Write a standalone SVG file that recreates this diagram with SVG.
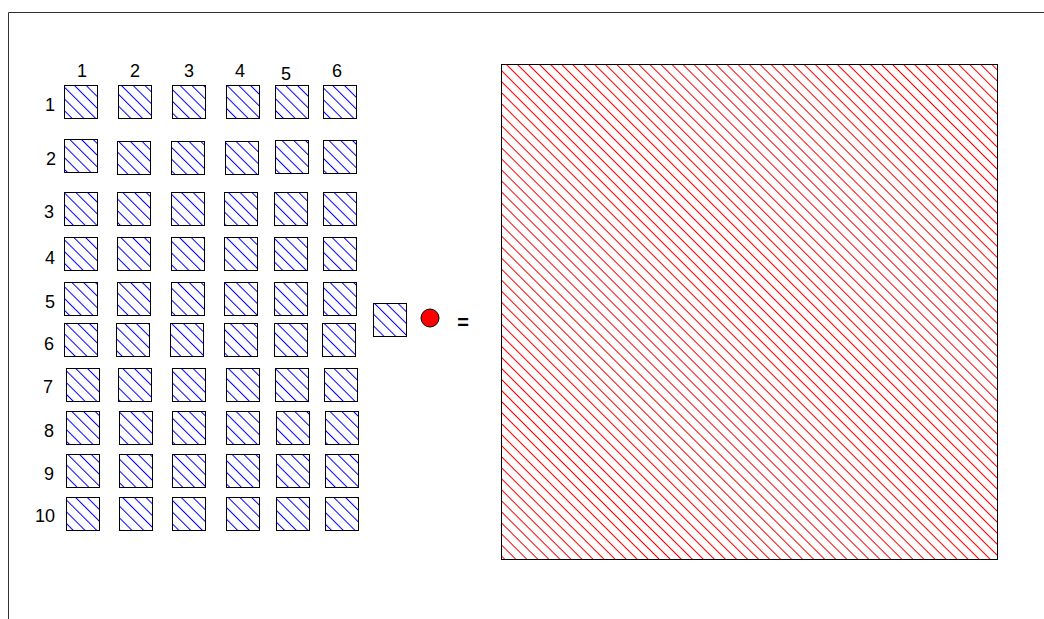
<svg xmlns="http://www.w3.org/2000/svg" width="1044" height="619" viewBox="0 0 1044 619">
<defs>
<pattern id="hb" patternUnits="userSpaceOnUse" width="8.3" height="8.3" patternTransform="rotate(-45)">
<rect width="8.3" height="8.3" fill="#fff"/>
<line x1="0.5" y1="0" x2="0.5" y2="8.3" stroke="#0000ff" stroke-width="1"/>
</pattern>
<pattern id="hr" patternUnits="userSpaceOnUse" width="7.8" height="7.8" patternTransform="rotate(-45)">
<rect width="7.8" height="7.8" fill="#fff"/>
<line x1="0.5" y1="0" x2="0.5" y2="7.8" stroke="#ff0000" stroke-width="1"/>
</pattern>
<style>
.sq{fill:url(#hb);stroke:#000;stroke-width:1}
.lb{font-family:"Liberation Sans",Arial,sans-serif;font-size:18px;fill:#000;text-anchor:middle}
</style>
</defs>
<rect width="1044" height="619" fill="#fff"/>
<g id="frame" stroke="#333" stroke-width="1" fill="none">
<line x1="8.5" y1="12.5" x2="1044" y2="12.5"/>
<line x1="8.5" y1="12.5" x2="8.5" y2="619"/>
</g>
<g id="col-labels">
<text class="lb" x="82" y="77">1</text>
<text class="lb" x="135" y="77">2</text>
<text class="lb" x="189" y="77">3</text>
<text class="lb" x="240" y="77">4</text>
<text class="lb" x="286" y="80">5</text>
<text class="lb" x="337" y="77">6</text>
</g>
<g id="row-labels">
<text class="lb" x="50" y="111">1</text>
<text class="lb" x="51" y="165">2</text>
<text class="lb" x="49" y="218">3</text>
<text class="lb" x="50" y="264">4</text>
<text class="lb" x="50" y="308">5</text>
<text class="lb" x="49" y="350">6</text>
<text class="lb" x="48" y="393">7</text>
<text class="lb" x="49" y="437">8</text>
<text class="lb" x="49" y="480">9</text>
<text class="lb" x="45" y="522">10</text>
</g>
<g id="grid">
<g id="row1">
<rect class="sq" x="64.5" y="85.5" width="33" height="33"/>
<rect class="sq" x="118.5" y="85.5" width="33" height="33"/>
<rect class="sq" x="172.5" y="85.5" width="33" height="33"/>
<rect class="sq" x="226.5" y="85.5" width="33" height="33"/>
<rect class="sq" x="275.5" y="85.5" width="33" height="33"/>
<rect class="sq" x="323.5" y="85.5" width="33" height="33"/>
</g>
<g id="row2">
<rect class="sq" x="64.5" y="139.5" width="33" height="33"/>
<rect class="sq" x="117.5" y="141.5" width="33" height="33"/>
<rect class="sq" x="171.5" y="141.5" width="33" height="33"/>
<rect class="sq" x="225.5" y="141.5" width="33" height="33"/>
<rect class="sq" x="275.5" y="140.5" width="33" height="33"/>
<rect class="sq" x="323.5" y="140.5" width="33" height="33"/>
</g>
<g id="row3">
<rect class="sq" x="64.5" y="192.5" width="33" height="33"/>
<rect class="sq" x="117.5" y="192.5" width="33" height="33"/>
<rect class="sq" x="171.5" y="192.5" width="33" height="33"/>
<rect class="sq" x="224.5" y="192.5" width="33" height="33"/>
<rect class="sq" x="274.5" y="192.5" width="33" height="33"/>
<rect class="sq" x="323.5" y="192.5" width="33" height="33"/>
</g>
<g id="row4">
<rect class="sq" x="64.5" y="237.5" width="33" height="33"/>
<rect class="sq" x="117.5" y="237.5" width="33" height="33"/>
<rect class="sq" x="171.5" y="237.5" width="33" height="33"/>
<rect class="sq" x="224.5" y="237.5" width="33" height="33"/>
<rect class="sq" x="274.5" y="237.5" width="33" height="33"/>
<rect class="sq" x="323.5" y="237.5" width="33" height="33"/>
</g>
<g id="row5">
<rect class="sq" x="64.5" y="282.5" width="33" height="33"/>
<rect class="sq" x="117.5" y="282.5" width="33" height="33"/>
<rect class="sq" x="171.5" y="282.5" width="33" height="33"/>
<rect class="sq" x="224.5" y="282.5" width="33" height="33"/>
<rect class="sq" x="274.5" y="282.5" width="33" height="33"/>
<rect class="sq" x="323.5" y="282.5" width="33" height="33"/>
</g>
<g id="row6">
<rect class="sq" x="64.5" y="323.5" width="33" height="33"/>
<rect class="sq" x="116.5" y="323.5" width="33" height="33"/>
<rect class="sq" x="170.5" y="323.5" width="33" height="33"/>
<rect class="sq" x="224.5" y="323.5" width="33" height="33"/>
<rect class="sq" x="274.5" y="323.5" width="33" height="33"/>
<rect class="sq" x="322.5" y="323.5" width="33" height="33"/>
</g>
<g id="row7">
<rect class="sq" x="66.5" y="368.5" width="33" height="33"/>
<rect class="sq" x="118.5" y="368.5" width="33" height="33"/>
<rect class="sq" x="172.5" y="368.5" width="33" height="33"/>
<rect class="sq" x="226.5" y="368.5" width="33" height="33"/>
<rect class="sq" x="275.5" y="368.5" width="33" height="33"/>
<rect class="sq" x="324.5" y="368.5" width="33" height="33"/>
</g>
<g id="row8">
<rect class="sq" x="66.5" y="411.5" width="33" height="33"/>
<rect class="sq" x="119.5" y="411.5" width="33" height="33"/>
<rect class="sq" x="172.5" y="411.5" width="33" height="33"/>
<rect class="sq" x="226.5" y="411.5" width="33" height="33"/>
<rect class="sq" x="276.5" y="411.5" width="33" height="33"/>
<rect class="sq" x="325.5" y="411.5" width="33" height="33"/>
</g>
<g id="row9">
<rect class="sq" x="66.5" y="454.5" width="33" height="33"/>
<rect class="sq" x="119.5" y="454.5" width="33" height="33"/>
<rect class="sq" x="172.5" y="454.5" width="33" height="33"/>
<rect class="sq" x="226.5" y="454.5" width="33" height="33"/>
<rect class="sq" x="276.5" y="454.5" width="33" height="33"/>
<rect class="sq" x="325.5" y="454.5" width="33" height="33"/>
</g>
<g id="row10">
<rect class="sq" x="66.5" y="497.5" width="33" height="33"/>
<rect class="sq" x="119.5" y="497.5" width="33" height="33"/>
<rect class="sq" x="172.5" y="497.5" width="33" height="33"/>
<rect class="sq" x="226.5" y="497.5" width="33" height="33"/>
<rect class="sq" x="276.5" y="497.5" width="33" height="33"/>
<rect class="sq" x="325.5" y="497.5" width="33" height="33"/>
</g>
</g>
<g id="unit-square"><rect class="sq" x="373.5" y="303.5" width="33" height="33"/></g>
<g id="red-dot"><circle cx="430" cy="318" r="9" fill="#ff0000" stroke="#000" stroke-width="1"/></g>
<g id="equals"><text x="463" y="329" font-family="Liberation Sans, Arial, sans-serif" font-size="20" font-weight="bold" text-anchor="middle">=</text></g>
<g id="big-square"><rect x="501.5" y="64.5" width="496" height="495" fill="url(#hr)" stroke="#000" stroke-width="1"/></g>
</svg>
